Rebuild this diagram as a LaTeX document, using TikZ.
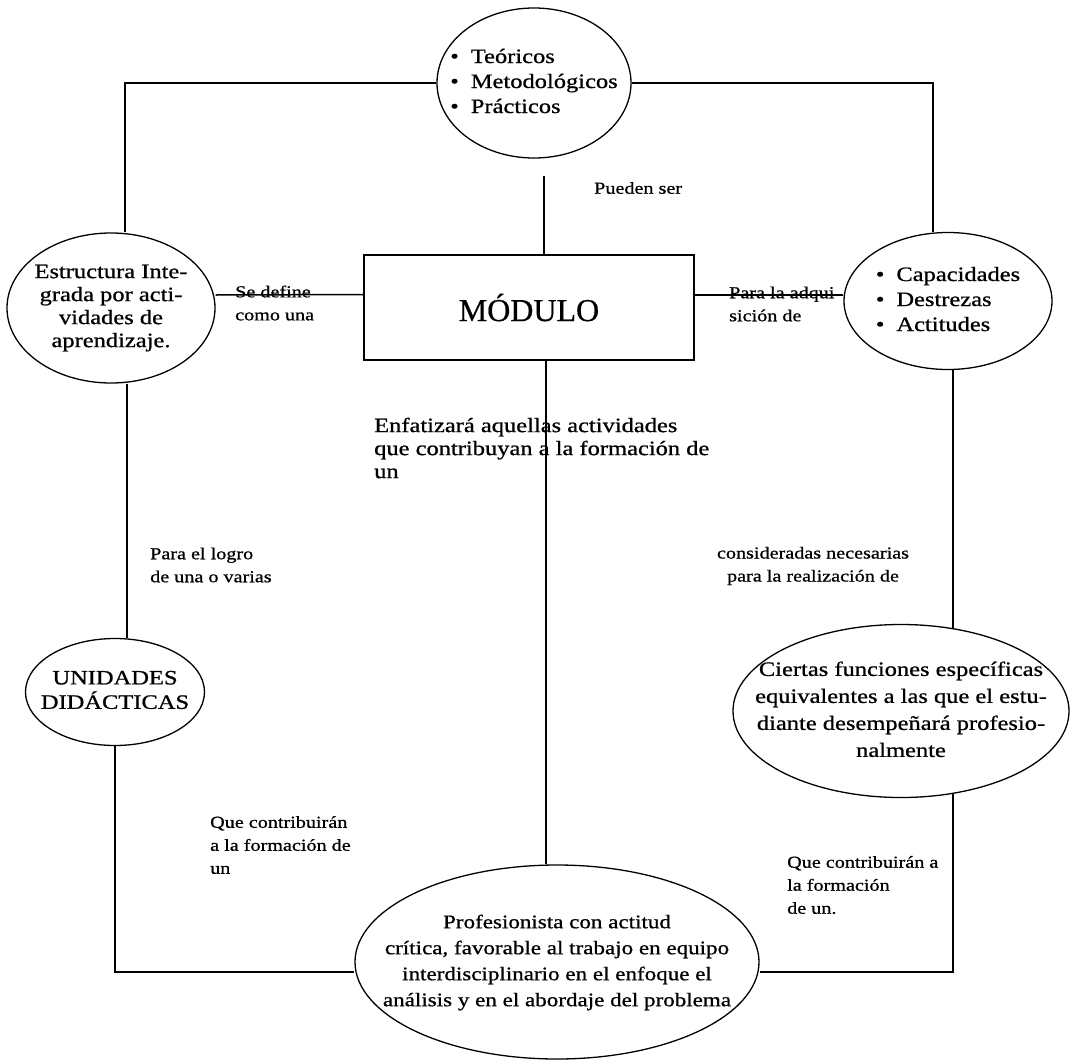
\documentclass[tikz,border=0pt]{standalone}
\usepackage{fontspec}
\setmainfont{Liberation Serif}[FakeStretch=1.2,FakeBold=0.8]
\newfontfamily\modfont{Liberation Serif}[FakeBold=0.6]
\usetikzlibrary{shapes.geometric,positioning}
\newcommand\elltext[1]{\makebox[0pt]{\begin{tabular}{@{}c@{}}#1\end{tabular}}}
\newcommand\elllist[1]{\makebox[0pt]{\begin{tabular}{@{}l@{}}#1\end{tabular}}}
\newcommand\bul{\textbullet\hspace{12pt}}
\tikzset{
  elip/.style={draw, ellipse, line width=1.3pt, inner sep=0pt, fill=white,
    font=\fontsize{20.4}{25}\selectfont},
  lbl/.style={inner sep=0pt, align=left, anchor=west, font=\fontsize{16.8}{23}\selectfont},
  con/.style={line width=1.5pt},
}
\begin{document}
\begin{tikzpicture}[x=1pt,y=-1pt]%mapa del modulo
\useasboundingbox (0,0) rectangle (1076,1060);
% nodos
\node[elip, minimum width=194pt, minimum height=150pt] (teor) at (534,83)
  {\elllist{\bul Teóricos\\ \bul Metodológicos\\ \bul Prácticos}};
\node[draw, line width=1.3pt, minimum width=330pt, minimum height=105pt,
  font=\modfont\fontsize{32}{32}\selectfont] (modulo) at (529,307.5) {MÓDULO};
\node[elip, minimum width=208pt, minimum height=150pt, font=\fontsize{20.4}{23}\selectfont] (estr) at (111,308)
  {\elltext{Estructura Inte-\\grada por acti-\\vidades de\\aprendizaje.}};
\node[lbl] (adq) at (729,304) {Para la adqui\\sición de};
\node[elip, minimum width=208pt, minimum height=137pt] (capac) at (948,301)
  {\elllist{\bul Capacidades\\ \bul Destrezas\\ \bul Actitudes}};
\node[elip, minimum width=179pt, minimum height=107pt, font=\fontsize{20.4}{23}\selectfont] (unid) at (115,692)
  {\elltext{UNIDADES\\DIDÁCTICAS}};
\node[elip, minimum width=336pt, minimum height=173pt, font=\fontsize{20.4}{27}\selectfont] (ciertas) at (901,711)
  {\elltext{Ciertas funciones específicas\\equivalentes a las que el estu-\\diante desempeñará profesio-\\nalmente}};
\node[elip, minimum width=404pt, minimum height=194pt, font=\fontsize{19.2}{26}\selectfont] (prof) at (557,962)
  {\raisebox{6pt}{\elltext{Profesionista con actitud\\crítica, favorable al trabajo en equipo\\interdisciplinario en el enfoque el\\análisis y en el abordaje del problema}}};
% etiquetas
\node[lbl] (sedef) at (235,303) {Se define\\como una};
\node[lbl] (pueden) at (594,188) {Pueden ser};
\node[lbl, font=\fontsize{20.4}{23}\selectfont] (enf) at (374,448)
  {Enfatizará aquellas actividades\\que contribuyan a la formación de\\un};
\node[lbl] (logro) at (150,565) {Para el logro\\de una o varias};
\node[lbl, anchor=center, align=center] (cons) at (813,566) {consideradas necesarias\\para la realización de};
\node[lbl] (que1) at (210,845) {Que contribuirán\\a la formación de\\un};
\node[lbl] (que2) at (787,885) {Que contribuirán a\\la formación\\de un.};
% lineas
\coordinate (m1) at ([xshift=15pt]modulo.north);
\coordinate (m2) at ([xshift=17pt]modulo.south);
\coordinate (e1) at ([xshift=16pt]estr.south);
\draw[con] (teor.west) -| ([xshift=14pt]estr.north);
\draw[con] (teor.east) -| ([xshift=-15pt]capac.north);
\draw[con] ([yshift=13pt]estr.east) -- ([yshift=13pt]modulo.west);
\draw[con] ([yshift=12.5pt]modulo.east) -- ([yshift=6pt]capac.west);
\draw[con, shorten >=17pt] (m1) -- (m1 |- teor.south);
\draw[con] (m2) -- (m2 |- prof.north);
\draw[con] (e1) -- (e1 |- unid.north);
\draw[con] (unid.south) |- ([yshift=-10pt]prof.west);
\draw[con] (capac.south -| ciertas.58) -- (ciertas.58);
\draw[con] (ciertas.-58) |- ([yshift=-10pt]prof.east);
\end{tikzpicture}
\end{document}
